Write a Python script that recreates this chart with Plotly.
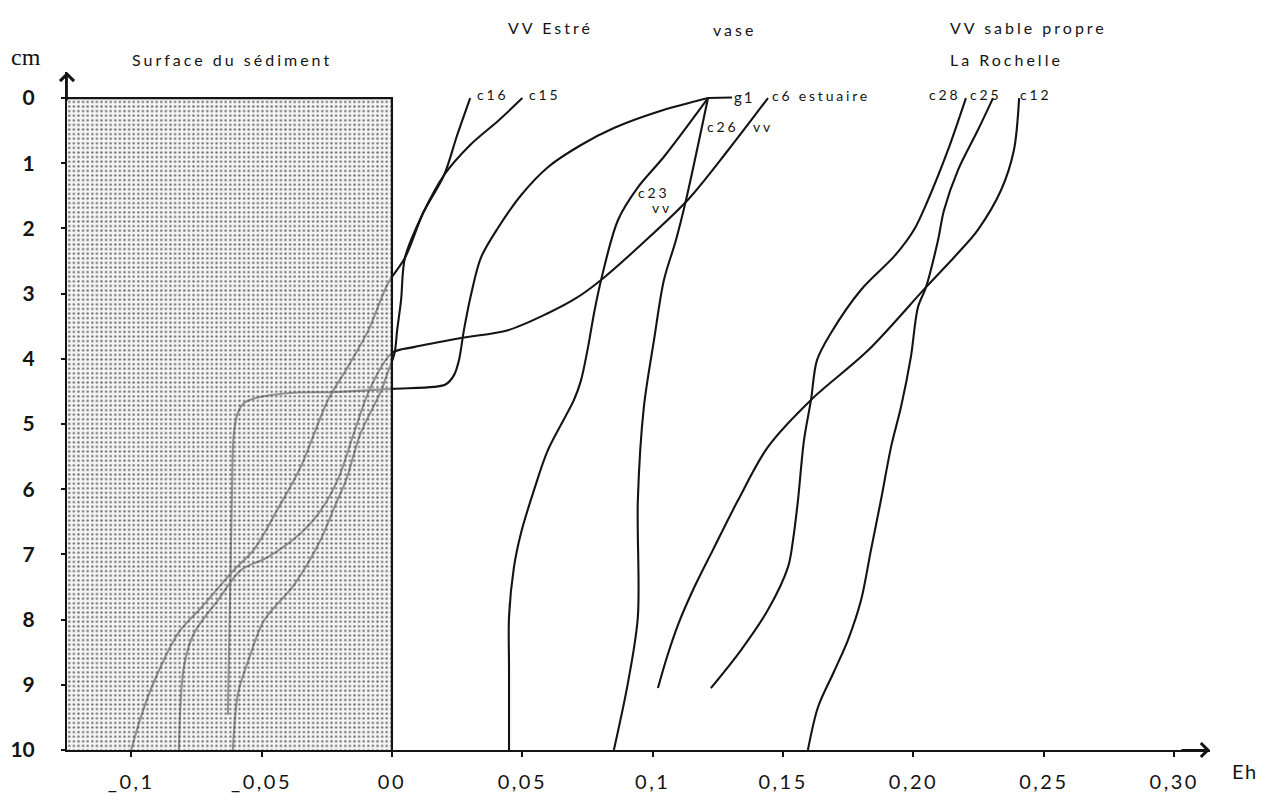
import plotly.graph_objects as go

FONT = "Lato"
INK = "#141414"

# ---------------- axes ----------------
eh_range = [-0.1246, 0.3137]
depth_range = [10, -0.4]
eh_tick_values = [-0.10, -0.05, 0.00, 0.05, 0.10, 0.15, 0.20, 0.25, 0.30]
eh_tick_labels = ["_0,1", "_0,05", "00", "0,05", "0,1", "0,15", "0,20", "0,25", "0,30"]
depth_tick_values = [0, 1, 2, 3, 4, 5, 6, 7, 8, 9, 10]

# sediment block (Eh < 0, 0-10 cm)
sediment_eh = [-0.1246, 0.0]
sediment_depth = [0, 10]

# ---------------- profiles (Eh, depth in cm) ----------------
c16_eh = [0.030, 0.025, 0.020, 0.012, 0.005, 0.0035, 0.002, 0.001, -0.002, -0.004,
          -0.012, -0.0176, -0.022, -0.028, -0.0376, -0.049, -0.055, -0.059, -0.061]
c16_depth = [0, 0.57, 1.18, 1.76, 2.45, 3.10, 3.56, 3.91, 4.25, 4.48,
             5.14, 5.86, 6.27, 6.83, 7.47, 8.01, 8.62, 9.13, 10]

c15_eh = [0.050, 0.041, 0.030, 0.020, 0.012, 0.005, -0.0015, -0.009, -0.017, -0.0245,
          -0.035, -0.044, -0.053, -0.0606, -0.073, -0.082, -0.091, -0.096, -0.100]
c15_depth = [0, 0.34, 0.72, 1.18, 1.76, 2.45, 2.84, 3.56, 4.13, 4.63,
             5.66, 6.32, 6.93, 7.24, 7.81, 8.21, 8.93, 9.46, 10]

g1_eh = [0.1212, 0.102, 0.0851, 0.0725, 0.0598, 0.0495, 0.0407, 0.0341, 0.0303, 0.0276,
         0.0257, 0.0238, 0.0207, 0.0161, 0.0, -0.0222, -0.0376, -0.0522, -0.0568, -0.0591,
         -0.0606, -0.0614, -0.0621, -0.0629]
g1_depth = [0, 0.21, 0.46, 0.72, 1.06, 1.49, 1.99, 2.45, 3.02, 3.56,
            4.02, 4.25, 4.39, 4.43, 4.46, 4.51, 4.52, 4.60, 4.68, 4.83,
            5.14, 6.17, 7.70, 9.46]

c6_eh = [0.1442, 0.1289, 0.1135, 0.0955, 0.0802, 0.0706, 0.0598, 0.0445, 0.0265, 0.0084,
         0.0, -0.0081, -0.0146, -0.0203, -0.0272, -0.0349, -0.0476, -0.0579, -0.0667,
         -0.0759, -0.0798, -0.0817]
c6_depth = [0, 0.80, 1.56, 2.25, 2.79, 3.07, 3.30, 3.56, 3.68, 3.82,
            3.91, 4.43, 5.14, 5.81, 6.32, 6.67, 7.04, 7.24, 7.70,
            8.21, 8.73, 10]

c26_eh = [0.1212, 0.1128, 0.1089, 0.1043, 0.1005, 0.0966, 0.0943, 0.0943, 0.0905, 0.0851]
c26_depth = [0, 1.56, 2.18, 2.79, 3.71, 4.74, 6.17, 7.96, 8.97, 10]

c23_eh = [0.1212, 0.1043, 0.0943, 0.0867, 0.0802, 0.0775, 0.0752, 0.0725, 0.0698, 0.0598,
          0.0545, 0.0495, 0.0468, 0.0449, 0.0449, 0.0449]
c23_depth = [0, 0.90, 1.37, 1.87, 2.79, 3.30, 3.82, 4.33, 4.63, 5.40,
             6.01, 6.67, 7.19, 7.96, 8.73, 10]

c28_eh = [0.2201, 0.2132, 0.2056, 0.2002, 0.1930, 0.1799, 0.1684, 0.1630, 0.1607, 0.1580,
          0.1557, 0.1538, 0.1519, 0.1442, 0.1338, 0.1223]
c28_depth = [0, 0.80, 1.56, 2.02, 2.41, 2.94, 3.60, 4.02, 4.63, 5.25,
             6.17, 6.78, 7.19, 7.85, 8.47, 9.05]

c25_eh = [0.2305, 0.2247, 0.2171, 0.2117, 0.2094, 0.2048, 0.2017, 0.1990, 0.1952, 0.1914,
          0.1875, 0.1837, 0.1799, 0.1749, 0.1695, 0.1634, 0.1595]
c25_depth = [0, 0.49, 1.10, 1.72, 2.18, 2.90, 3.21, 3.97, 4.74, 5.35,
             6.17, 6.93, 7.70, 8.31, 8.80, 9.34, 10]

c12_eh = [0.2405, 0.2385, 0.2336, 0.2247, 0.2163, 0.2048, 0.1826, 0.1607, 0.1442, 0.1327,
          0.1231, 0.1154, 0.1097, 0.1055, 0.1020]
c12_depth = [0, 0.80, 1.41, 2.02, 2.41, 2.90, 3.87, 4.63, 5.35, 6.17,
             6.93, 7.55, 8.08, 8.57, 9.05]

profiles = [
    ("c16", c16_eh, c16_depth),
    ("c15", c15_eh, c15_depth),
    ("g1", g1_eh, g1_depth),
    ("c6 estuaire", c6_eh, c6_depth),
    ("c26 vv", c26_eh, c26_depth),
    ("c23 vv", c23_eh, c23_depth),
    ("c28", c28_eh, c28_depth),
    ("c25", c25_eh, c25_depth),
    ("c12", c12_eh, c12_depth),
]

# ---------------- text labels ----------------
# curve labels in data units (Eh, depth)
curve_labels = [
    ("c16", 0.0318, -0.05),
    ("c15", 0.0518, -0.05),
    ("c6 estuaire", 0.1450, -0.04),
    ("c26", 0.1200, 0.44),
    ("vv", 0.1375, 0.44),
    ("c23", 0.0936, 1.45),
    ("vv", 0.0990, 1.68),
    ("c28", 0.2052, -0.05),
    ("c25", 0.2209, -0.05),
    ("c12", 0.2401, -0.05),
]
# headings above the plot area (paper units)
headers = [
    ("Surface du sédiment", 0.1444, 1.018, "center"),
    ("VV Estré", 0.4226, 1.065, "center"),
    ("vase", 0.5844, 1.062, "center"),
    ("VV sable propre", 0.7708, 1.065, "left"),
    ("La Rochelle", 0.7708, 1.018, "left"),
]


def spaced(t, px):
    return f'<span style="letter-spacing:{px}px">{t}</span>'


fig = go.Figure()

for name, xs, ys in profiles:
    fig.add_trace(go.Scatter(
        x=xs, y=ys, mode="lines", name=name,
        line=dict(color=INK, width=2.1, shape="spline", smoothing=0.9),
        hoverinfo="skip"))

# stippled sediment block drawn over the curves (curves show through faintly)
x0, x1 = sediment_eh
d0, d1 = sediment_depth
fig.add_trace(go.Scatter(
    x=[x0, x1, x1, x0, x0], y=[d0, d0, d1, d1, d0],
    mode="none", fill="toself", fillcolor="rgba(236,236,236,0.6)",
    fillpattern=dict(shape=".", fgcolor="#404040", fgopacity=0.75,
                     bgcolor="rgba(236,236,236,0.6)", size=4.6, solidity=0.21,
                     fillmode="replace"),
    hoverinfo="skip", showlegend=False))
fig.add_trace(go.Scatter(
    x=[x0, x1, x1], y=[d0, d0, d1], mode="lines",
    line=dict(color=INK, width=2.2), hoverinfo="skip", showlegend=False))

annotations = []
for text, x, y in curve_labels:
    annotations.append(dict(x=x, y=y, xref="x", yref="y", text=spaced(text, 2.8),
                            showarrow=False, xanchor="left", yanchor="middle",
                            font=dict(family=FONT, size=14, color=INK)))
# g1 label with its short leader line
annotations.append(dict(x=g1_eh[0], y=g1_depth[0], xref="x", yref="y",
                        text=spaced("g1", 2), showarrow=True, arrowhead=0,
                        arrowwidth=2, arrowcolor=INK, ax=36, ay=-1,
                        font=dict(family=FONT, size=15, color=INK)))
for text, x, y, anchor in headers:
    annotations.append(dict(x=x, y=y, xref="paper", yref="paper", text=spaced(text, 3),
                            showarrow=False, xanchor=anchor, yanchor="middle",
                            font=dict(family=FONT, size=16, color=INK)))
annotations.append(dict(x=-0.036, y=1.022, xref="paper", yref="paper", text="cm",
                        showarrow=False, xanchor="center", yanchor="middle",
                        font=dict(family="Liberation Serif", size=24, color=INK)))
annotations.append(dict(x=1.031, y=-0.031, xref="paper", yref="paper", text=spaced("Eh", 1.5),
                        showarrow=False, xanchor="center", yanchor="middle",
                        font=dict(family=FONT, size=20, color=INK)))
# axis arrowheads
annotations.append(dict(x=1, y=0, xref="paper", yref="paper", text="", showarrow=True,
                        arrowhead=4, arrowsize=1.5, arrowwidth=1.8, arrowcolor=INK,
                        ax=-30, ay=0))
annotations.append(dict(x=0, y=1, xref="paper", yref="paper", text="", showarrow=True,
                        arrowhead=4, arrowsize=1.5, arrowwidth=1.8, arrowcolor=INK,
                        ax=0, ay=30))

# the page body adds an 8 px margin on each side, so the figure is 16 px smaller
fig.update_layout(
    width=1255, height=785,
    margin=dict(l=59, r=53, t=64, b=43, autoexpand=False),
    plot_bgcolor="white", paper_bgcolor="white",
    showlegend=False,
    annotations=annotations,
)
fig.update_xaxes(
    range=eh_range, tickvals=eh_tick_values,
    ticktext=[spaced(t, 2.5) for t in eh_tick_labels],
    showgrid=False, zeroline=False, showline=True, linecolor=INK, linewidth=2,
    ticks="outside", ticklen=5, tickwidth=2, tickcolor=INK,
    tickfont=dict(family=FONT, size=20, color=INK), ticklabelstandoff=8,
    automargin=False,
)
fig.update_yaxes(
    range=depth_range, tickvals=depth_tick_values,
    showgrid=False, zeroline=False, showline=True, linecolor=INK, linewidth=2,
    ticks="outside", ticklen=4, tickwidth=2, tickcolor=INK,
    tickfont=dict(family=FONT, size=21, color=INK, weight="bold"), ticklabelstandoff=22,
    automargin=False,
)

fig.write_html("out.html")
